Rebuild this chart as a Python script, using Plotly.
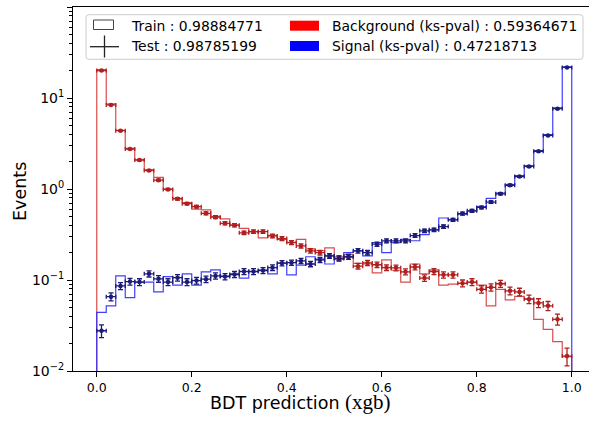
import numpy as np
import plotly.graph_objects as go

# ---------------- data ----------------
bin_edges = np.linspace(0.0, 1.0, 51)
bin_centers = 0.5 * (bin_edges[:-1] + bin_edges[1:])
bin_half_width = 0.5 * (bin_edges[1] - bin_edges[0])

bkg_train = [20.5, 8.6, 4.4, 2.8, 2.1, 1.62, 1.34, 1.0, 0.79, 0.71,
             0.60, 0.59, 0.50, 0.47, 0.40, 0.37, 0.34, 0.29, 0.31, 0.28,
             0.26, 0.28, 0.22, 0.21, 0.225, 0.18, 0.19, 0.152, 0.15, 0.12,
             0.166, 0.128, 0.095, 0.15, 0.117, 0.129, 0.088, 0.09, 0.092, 0.094,
             0.088, 0.052, 0.079, 0.0605, 0.066, 0.062, 0.037, 0.0287, 0.021, 0.0144]
bkg_test = [20.0, 8.4, 4.37, 2.75, 2.08, 1.60, 1.25, 0.99, 0.78, 0.69,
            0.64, 0.54, 0.49, 0.42, 0.40, 0.33, 0.34, 0.34, 0.305, 0.285,
            0.258, 0.237, 0.209, 0.200, 0.184, 0.174, 0.180, 0.142, 0.154, 0.147,
            0.137, 0.136, 0.123, 0.139, 0.105, 0.124, 0.114, 0.114, 0.092, 0.095,
            0.079, 0.083, 0.091, 0.076, 0.074, 0.0615, 0.056, 0.052, 0.037, 0.0146]
sig_train = [0.044, 0.052, 0.111, 0.064, 0.095, 0.095, 0.074, 0.109, 0.088, 0.117,
             0.088, 0.123, 0.129, 0.111, 0.117, 0.105, 0.124, 0.129, 0.117, 0.153,
             0.114, 0.146, 0.18, 0.17, 0.15, 0.17, 0.20, 0.209, 0.184, 0.258,
             0.20, 0.258, 0.28, 0.27, 0.316, 0.356, 0.48, 0.46, 0.53, 0.575,
             0.64, 0.79, 0.90, 1.12, 1.40, 1.80, 2.65, 3.95, 7.8, 22.0]
sig_test = [0.0277, 0.0656, 0.086, 0.096, 0.095, 0.117, 0.103, 0.095, 0.106, 0.095,
            0.0985, 0.102, 0.111, 0.109, 0.115, 0.124, 0.124, 0.127, 0.137, 0.153,
            0.155, 0.162, 0.150, 0.166, 0.184, 0.172, 0.180, 0.209, 0.200, 0.248,
            0.269, 0.269, 0.269, 0.308, 0.347, 0.356, 0.386, 0.458, 0.537, 0.575,
            0.627, 0.718, 0.885, 1.10, 1.37, 1.77, 2.60, 3.88, 7.63, 21.7]

# effective per-event weight used for the sqrt(sum w^2) uncertainties of the test points
event_weight = 7e-4

train_auc = "0.98884771"
test_auc = "0.98785199"
bkg_ks = "0.59364671"
sig_ks = "0.47218713"

x_ticks = [0.0, 0.2, 0.4, 0.6, 0.8, 1.0]
x_ticklabels = ["0.0", "0.2", "0.4", "0.6", "0.8", "1.0"]
y_ticks = [1e-2, 1e-1, 1e0, 1e1, 1e2]
y_ticklabels = ["10<sup>\u22122</sup>", "10<sup>\u22121</sup>", "10<sup>0</sup>",
                "10<sup>1</sup>", "10<sup>2</sup>"]

# ---------------- styling ----------------
FONT = "DejaVu Sans"
C_BKG_TRAIN = "#d83a3a"
C_SIG_TRAIN = "#2b2bff"
C_BKG_TEST = "#b01f1f"
C_SIG_TEST = "#1c1c78"

W, H = 589, 421
ML, MR, MT, MB = 73, 0, 7, 50
PW, PH = W - ML - MR, H - MT - MB


def px2paper(x, y):
    return (x - ML) / PW, (H - MB - y) / PH


def step_xy(vals, floor=1e-6):
    xs = [bin_edges[0]] + list(bin_edges[:-1]) + [bin_edges[-1], bin_edges[-1]]
    ys = [floor] + list(vals) + [vals[-1], floor]
    return xs, ys


fig = go.Figure()

for vals, col in [(bkg_train, C_BKG_TRAIN), (sig_train, C_SIG_TRAIN)]:
    xs, ys = step_xy(vals)
    fig.add_trace(go.Scatter(x=xs, y=ys, mode="lines", line=dict(color=col, width=1.2, shape="hv"),
                             opacity=0.9, showlegend=False, hoverinfo="skip"))

for vals, col in [(bkg_test, C_BKG_TEST), (sig_test, C_SIG_TEST)]:
    v = np.array(vals)
    err = np.sqrt(v * event_weight)
    fig.add_trace(go.Scatter(
        x=bin_centers, y=v, mode="markers",
        marker=dict(color=col, size=4.5),
        error_x=dict(type="constant", value=bin_half_width, color=col, thickness=1.3, width=2),
        error_y=dict(type="data", array=err, color=col, thickness=1.3, width=2.5),
        showlegend=False))

minor_vals = [k * 10.0 ** d for d in range(-2, 2) for k in range(2, 10)]

fig.update_layout(
    width=W, height=H,
    margin=dict(l=ML, r=MR, t=MT, b=MB, autoexpand=False),
    paper_bgcolor="white", plot_bgcolor="white",
    font=dict(family=FONT, color="black"),
    showlegend=False,
    xaxis=dict(range=[-0.05, -0.05 + PW / 475.0], showline=True, linecolor="black", linewidth=1,
               mirror=True, ticks="outside", ticklen=5, tickwidth=1, tickcolor="black",
               tickvals=x_ticks, ticktext=x_ticklabels, tickfont=dict(size=12.5, family=FONT),
               showgrid=False, zeroline=False, automargin=False),
    yaxis=dict(type="log", range=[-2, 2], showline=True, linecolor="black", linewidth=1,
               mirror=False, ticks="outside", ticklen=5, tickwidth=1, tickcolor="black",
               tickvals=y_ticks, ticktext=y_ticklabels, tickfont=dict(size=14, family=FONT),
               minor=dict(ticks="outside", ticklen=3, tickwidth=0.8, tickcolor="black",
                          tickvals=minor_vals, showgrid=False),
               showgrid=False, zeroline=False, automargin=False),
)

# axis titles
fig.add_annotation(text="BDT prediction <span style='font-family:Liberation Serif;font-size:21px'>(xgb)</span>",
                   xref="paper", yref="paper", x=px2paper(300, 0)[0], y=px2paper(0, 402)[1],
                   xanchor="center", yanchor="middle", showarrow=False,
                   font=dict(size=17.5, family=FONT, color="black"))
fig.add_annotation(text="Events", xref="paper", yref="paper",
                   x=px2paper(20, 0)[0], y=px2paper(0, 192)[1], textangle=-90,
                   xanchor="center", yanchor="middle", showarrow=False,
                   font=dict(size=17.5, family=FONT, color="black"))

# ---------------- legend (drawn by hand, matplotlib style) ----------------
def rounded_rect_path(x0, y0, x1, y1, r):
    (a, b), (c, d) = px2paper(x0, y0), px2paper(x1, y1)
    rx, ry = r / PW, r / PH
    return (f"M{a+rx},{b} L{c-rx},{b} Q{c},{b} {c},{b-ry} L{c},{d+ry} Q{c},{d} {c-rx},{d} "
            f"L{a+rx},{d} Q{a},{d} {a},{d+ry} L{a},{b-ry} Q{a},{b} {a+rx},{b} Z")

fig.add_shape(type="path", path=rounded_rect_path(86, 14.7, 583, 59.3, 3), xref="paper", yref="paper",
              line=dict(color="#cccccc", width=1), fillcolor="rgba(255,255,255,0.8)", layer="above")


def prect(x0, y0, x1, y1, **kw):
    (a, b), (c, d) = px2paper(x0, y0), px2paper(x1, y1)
    fig.add_shape(type="rect", x0=a, y0=b, x1=c, y1=d, xref="paper", yref="paper", layer="above", **kw)


def pline(x0, y0, x1, y1, **kw):
    (a, b), (c, d) = px2paper(x0, y0), px2paper(x1, y1)
    fig.add_shape(type="line", x0=a, y0=b, x1=c, y1=d, xref="paper", yref="paper", layer="above", **kw)


prect(93.5, 20, 113.5, 29.5, line=dict(color="#444444", width=1), fillcolor="rgba(0,0,0,0)")
pline(90, 46.7, 119, 46.7, line=dict(color="#222222", width=1.3))
pline(104.5, 35.5, 104.5, 57.5, line=dict(color="#222222", width=1.3))
prect(290, 20.7, 319, 30.7, line=dict(width=0), fillcolor="#ff0000")
prect(290, 41, 319, 51, line=dict(width=0), fillcolor="#0000ff")

for txt, xp, yp in [(f"Train : {train_auc}", 129, 25.5), (f"Test : {test_auc}", 129, 46.5),
                    (f"Background (ks-pval) : {bkg_ks}", 330, 25.5),
                    (f"Signal (ks-pval) : {sig_ks}", 330, 46.5)]:
    xx, yy = px2paper(xp, yp)
    fig.add_annotation(text=txt, xref="paper", yref="paper", x=xx, y=yy, xanchor="left",
                       yanchor="middle", showarrow=False,
                       font=dict(size=13.9, family=FONT, color="black"))

fig.write_html("out.html", config={"displayModeBar": False},
               post_script="document.body.style.margin='0';")
